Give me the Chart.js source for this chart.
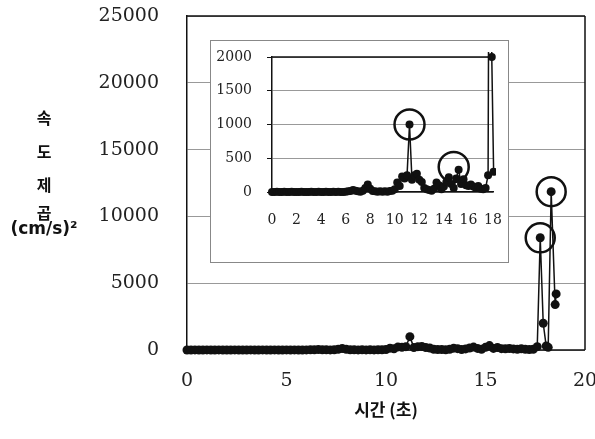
<!DOCTYPE html>
<html>
<head>
<meta charset="utf-8">
<script src="https://cdn.jsdelivr.net/npm/chart.js@4.4.0/dist/chart.umd.min.js"></script>
<style>
  body { margin: 0; background: #fff; }
  #wrap { position: relative; width: 595px; height: 439px; }
  #main { position: absolute; left: 0; top: 0; }
  #insetBox { position: absolute; left: 210px; top: 40px; width: 297px; height: 221px; border: 1px solid #888; background: #fff; }
</style>
</head>
<body>
<div id="wrap">
  <canvas id="main" width="595" height="439"></canvas>
  <div id="insetBox"><canvas id="inset" width="297" height="221"></canvas></div>
</div>
<script>
// time (s) and squared speed (cm/s)^2
const times = [
  0.0, 0.2, 0.4, 0.6, 0.8, 1.0, 1.2, 1.4, 1.6, 1.8,
  2.0, 2.2, 2.4, 2.6, 2.8, 3.0, 3.2, 3.4, 3.6, 3.8,
  4.0, 4.2, 4.4, 4.6, 4.8, 5.0, 5.2, 5.4, 5.6, 5.8,
  6.0, 6.2, 6.4, 6.6, 6.8, 7.0, 7.2, 7.4, 7.6, 7.8,
  8.0, 8.2, 8.4, 8.6, 8.8, 9.0, 9.2, 9.4, 9.6, 9.8,
  10.0, 10.2, 10.4, 10.6, 10.8, 11.0, 11.2, 11.4, 11.6, 11.8,
  12.0, 12.2, 12.4, 12.6, 12.8, 13.0, 13.2, 13.4, 13.6, 13.8,
  14.0, 14.2, 14.4, 14.6, 14.8, 15.0, 15.2, 15.4, 15.6, 15.8,
  16.0, 16.2, 16.4, 16.6, 16.8, 17.0, 17.2, 17.4, 17.6,
  17.75, 17.9, 18.05, 18.15, 18.3, 18.5, 18.55
];
const speedSq = [
  0, 0, 5, 0, 0, 5, 0, 0, 5, 0,
  0, 0, 5, 0, 0, 0, 5, 0, 0, 5,
  0, 0, 5, 0, 0, 5, 0, 5, 0, 0,
  5, 10, 15, 30, 20, 10, 5, 20, 60, 110,
  50, 15, 10, 5, 10, 5, 10, 5, 15, 20,
  40, 140, 90, 230, 200, 250, 1000, 180, 250, 270,
  180, 150, 60, 40, 30, 20, 50, 140, 100, 40,
  80, 150, 220, 120, 60, 200, 330, 120, 190, 100,
  90, 110, 80, 60, 90, 50, 40, 60, 250,
  8400, 2000, 300, 200, 11850, 3400, 4200
];

// circled peaks
const mainRingT = [17.75, 18.3];
const mainRingV = [8400, 11850];
const insetRingT = [11.2, 14.8];
const insetRingV = [1000, 370];

const mainXTicks = [0, 5, 10, 15, 20];
const mainYTicks = [0, 5000, 10000, 15000, 20000, 25000];
const insetXTicks = [0, 2, 4, 6, 8, 10, 12, 14, 16, 18];
const insetYTicks = [0, 500, 1000, 1500, 2000];

const yTitleLines = ['속', '도', '제', '곱', '(cm/s)²'];
const xTitle = '시간 (초)';

const points = times.map((t, i) => ({ x: t, y: speedSq[i] }));
const mainRings = mainRingT.map((t, i) => ({ x: t, y: mainRingV[i] }));
const insetRings = insetRingT.map((t, i) => ({ x: t, y: insetRingV[i] }));

const INK = '#111';

// fixed axis box size, no extra edge padding from labels
function fixSize(w, h) {
  return s => {
    if (w) s.width = w;
    if (h) s.height = h;
    s.paddingTop = s.paddingBottom = s.paddingLeft = s.paddingRight = 0;
  };
}

// black lines round the plot area
const frame = {
  id: 'frame',
  beforeDatasetsDraw(chart, args, opts) {
    const { ctx, chartArea: a } = chart;
    ctx.save();
    ctx.strokeStyle = INK;
    ctx.lineWidth = opts.width || 1.5;
    ctx.beginPath();
    (opts.sides || []).forEach(s => {
      if (s === 'top') { ctx.moveTo(a.left, a.top); ctx.lineTo(a.right, a.top); }
      if (s === 'right') { ctx.moveTo(a.right, a.top); ctx.lineTo(a.right, a.bottom); }
      if (s === 'bottom') { ctx.moveTo(a.left, a.bottom); ctx.lineTo(a.right, a.bottom); }
    });
    ctx.stroke();
    ctx.restore();
  }
};

// stacked y title on the left
const yTitle = {
  id: 'yTitle',
  afterDraw(chart) {
    const ctx = chart.ctx;
    const ys = [118, 152, 185, 213, 230];
    ctx.save();
    ctx.fillStyle = INK;
    ctx.textAlign = 'center';
    ctx.textBaseline = 'middle';
    yTitleLines.forEach((txt, i) => {
      ctx.font = i < 4 ? 'bold 16px "Noto Sans CJK KR"' : 'bold 17px "DejaVu Sans"';
      ctx.fillText(txt, 44, ys[i]);
    });
    ctx.restore();
  }
};

const plain = v => String(v);

new Chart(document.getElementById('main'), {
  type: 'line',
  data: {
    datasets: [
      {
        data: points, borderColor: INK, borderWidth: 1.5, tension: 0,
        pointRadius: 4.5, pointBackgroundColor: INK, pointBorderWidth: 0,
        clip: 7
      },
      {
        data: mainRings, showLine: false, clip: false,
        pointRadius: 14.5, pointBorderWidth: 2.5, pointBorderColor: INK,
        pointBackgroundColor: 'rgba(0,0,0,0)'
      }
    ]
  },
  options: {
    responsive: false, animation: false, events: [],
    layout: { autoPadding: false, padding: { left: 0, top: 16, right: 10, bottom: 0 } },
    plugins: {
      legend: { display: false }, tooltip: { enabled: false },
      frame: { sides: ['top', 'right', 'bottom'], width: 1.5 }
    },
    scales: {
      x: {
        type: 'linear', min: 0, max: 20,
        afterBuildTicks: s => { s.ticks = mainXTicks.map(v => ({ value: v })); },
        afterFit: fixSize(0, 89),
        grid: { display: false, drawTicks: false }, border: { display: false },
        ticks: { font: { family: 'DejaVu Serif', size: 19 }, color: '#222', padding: 20, maxRotation: 0, autoSkip: false, callback: plain },
        title: {
          display: true, text: xTitle, color: INK,
          font: { family: 'Noto Sans CJK KR', size: 17, weight: 'bold' },
          padding: { top: 0, bottom: 19 }
        }
      },
      y: {
        min: 0, max: 25000,
        afterBuildTicks: s => { s.ticks = mainYTicks.map(v => ({ value: v })); },
        afterFit: fixSize(187, 0),
        grid: { color: '#999', lineWidth: 1, drawTicks: false },
        border: { display: true, color: INK, width: 1.5 },
        ticks: { font: { family: 'DejaVu Serif', size: 19 }, color: '#222', padding: 28, callback: plain }
      }
    }
  },
  plugins: [frame, yTitle]
});

new Chart(document.getElementById('inset'), {
  type: 'line',
  data: {
    datasets: [
      {
        data: points, borderColor: INK, borderWidth: 1.5, tension: 0,
        pointRadius: 4, pointBackgroundColor: INK, pointBorderWidth: 0,
        clip: { left: 5, top: 5, right: 3, bottom: 6 }
      },
      {
        data: insetRings, showLine: false, clip: false,
        pointRadius: 15, pointBorderWidth: 2.5, pointBorderColor: INK,
        pointBackgroundColor: 'rgba(0,0,0,0)'
      }
    ]
  },
  options: {
    responsive: false, animation: false, events: [],
    layout: { autoPadding: false, padding: { left: 0, top: 16, right: 15, bottom: 0 } },
    plugins: {
      legend: { display: false }, tooltip: { enabled: false },
      frame: { sides: ['top'], width: 1.5 }
    },
    scales: {
      x: {
        type: 'linear', min: 0, max: 18,
        afterBuildTicks: s => { s.ticks = insetXTicks.map(v => ({ value: v })); },
        afterFit: fixSize(0, 70),
        grid: { display: false, drawTicks: false }, border: { display: true, color: INK, width: 1.5 },
        ticks: { font: { family: 'DejaVu Serif', size: 14 }, color: '#222', padding: 20, maxRotation: 0, autoSkip: false, callback: plain }
      },
      y: {
        min: 0, max: 2000,
        afterBuildTicks: s => { s.ticks = insetYTicks.map(v => ({ value: v })); },
        afterFit: fixSize(61, 0),
        grid: { color: '#999', lineWidth: 1, tickLength: 5, tickColor: INK },
        border: { display: true, color: INK, width: 1.5 },
        ticks: { font: { family: 'DejaVu Serif', size: 14 }, color: '#222', padding: 15, callback: plain }
      }
    }
  },
  plugins: [frame]
});
</script>
</body>
</html>
